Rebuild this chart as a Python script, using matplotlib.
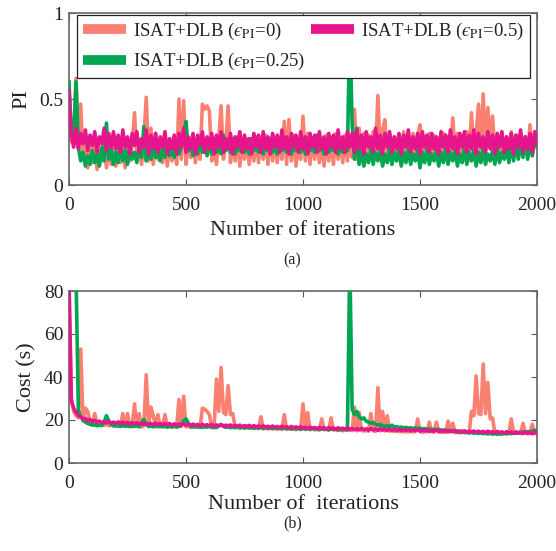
import numpy as np
import matplotlib
matplotlib.use("Agg")
import matplotlib.pyplot as plt

plt.rcParams['font.family'] = ['Liberation Serif', 'DejaVu Serif']
plt.rcParams['mathtext.fontset'] = 'stix'

# Iterations sampled every 10 steps
iterations = np.arange(0, 2001, 10)

# Performance index per iteration
pi_eps0 = [
    0.30, 0.25, 0.28, 0.62, 0.22, 0.47, 0.15, 0.25, 0.10, 0.22, 0.13, 0.26, 0.09, 0.20, 0.14, 0.25, 0.10, 0.22, 0.12, 0.27,
    0.11, 0.24, 0.13, 0.28, 0.10, 0.26, 0.14, 0.23, 0.42, 0.15, 0.25, 0.12, 0.27, 0.51, 0.14, 0.33, 0.12, 0.30, 0.15, 0.25,
    0.13, 0.27, 0.11, 0.24, 0.14, 0.28, 0.12, 0.50, 0.15, 0.49, 0.12, 0.26, 0.16, 0.27, 0.13, 0.25, 0.15, 0.47, 0.44, 0.46,
    0.43, 0.14, 0.25, 0.12, 0.27, 0.46, 0.15, 0.24, 0.46, 0.13, 0.26, 0.14, 0.28, 0.11, 0.25, 0.15, 0.27, 0.12, 0.24, 0.14,
    0.28, 0.13, 0.26, 0.15, 0.29, 0.12, 0.27, 0.14, 0.25, 0.13, 0.26, 0.15, 0.37, 0.12, 0.38, 0.14, 0.29, 0.11, 0.25, 0.15,
    0.40, 0.14, 0.30, 0.12, 0.27, 0.15, 0.28, 0.13, 0.26, 0.11, 0.29, 0.14, 0.27, 0.12, 0.30, 0.15, 0.26, 0.13, 0.29, 0.14,
    0.28, 0.16, 0.44, 0.15, 0.33, 0.17, 0.30, 0.16, 0.29, 0.18, 0.31, 0.17, 0.52, 0.18, 0.32, 0.38, 0.17, 0.30, 0.18, 0.28,
    0.17, 0.29, 0.16, 0.31, 0.18, 0.28, 0.15, 0.30, 0.17, 0.29, 0.35, 0.16, 0.28, 0.18, 0.30, 0.15, 0.29, 0.17, 0.27, 0.16,
    0.30, 0.17, 0.28, 0.16, 0.39, 0.18, 0.30, 0.15, 0.29, 0.17, 0.31, 0.16, 0.42, 0.18, 0.30, 0.47, 0.19, 0.53, 0.20, 0.45,
    0.22, 0.40, 0.18, 0.29, 0.16, 0.30, 0.17, 0.28, 0.15, 0.31, 0.17, 0.29, 0.16, 0.30, 0.18, 0.28, 0.16, 0.35, 0.17, 0.30,
    0.25,
]
pi_eps025 = [
    0.60, 0.30, 0.27, 0.60, 0.22, 0.14, 0.19, 0.11, 0.17, 0.12, 0.20, 0.13, 0.18, 0.11, 0.22, 0.14, 0.36, 0.15, 0.21, 0.12,
    0.19, 0.13, 0.24, 0.14, 0.20, 0.12, 0.22, 0.15, 0.19, 0.13, 0.23, 0.16, 0.34, 0.14, 0.21, 0.15, 0.24, 0.16, 0.20, 0.14,
    0.22, 0.16, 0.25, 0.17, 0.21, 0.16, 0.24, 0.18, 0.22, 0.30, 0.37, 0.20, 0.25, 0.17, 0.23, 0.18, 0.26, 0.19, 0.22, 0.17,
    0.24, 0.18, 0.27, 0.19, 0.23, 0.18, 0.29, 0.20, 0.24, 0.19, 0.27, 0.18, 0.23, 0.20, 0.26, 0.19, 0.24, 0.18, 0.27, 0.20,
    0.23, 0.19, 0.26, 0.18, 0.24, 0.20, 0.27, 0.19, 0.23, 0.18, 0.26, 0.20, 0.24, 0.19, 0.27, 0.18, 0.23, 0.20, 0.26, 0.19,
    0.24, 0.18, 0.27, 0.20, 0.23, 0.19, 0.29, 0.20, 0.24, 0.18, 0.26, 0.19, 0.23, 0.20, 0.27, 0.18, 0.24, 0.19, 0.26, 0.20,
    0.95, 0.35, 0.15, 0.33, 0.12, 0.20, 0.11, 0.18, 0.13, 0.21, 0.12, 0.19, 0.14, 0.20, 0.11, 0.18, 0.13, 0.21, 0.12, 0.19,
    0.14, 0.20, 0.11, 0.19, 0.13, 0.21, 0.12, 0.18, 0.14, 0.20, 0.10, 0.19, 0.13, 0.21, 0.12, 0.18, 0.14, 0.20, 0.11, 0.19,
    0.13, 0.21, 0.12, 0.19, 0.14, 0.20, 0.11, 0.18, 0.13, 0.21, 0.12, 0.19, 0.14, 0.20, 0.11, 0.19, 0.13, 0.21, 0.12, 0.18,
    0.14, 0.20, 0.12, 0.21, 0.13, 0.19, 0.15, 0.22, 0.13, 0.25, 0.14, 0.27, 0.15, 0.24, 0.16, 0.28, 0.15, 0.26, 0.17, 0.30,
    0.22,
]
pi_eps05 = [
    0.55, 0.29, 0.22, 0.33, 0.21, 0.30, 0.24, 0.32, 0.20, 0.29, 0.23, 0.31, 0.19, 0.28, 0.24, 0.33, 0.20, 0.30, 0.22, 0.31,
    0.21, 0.29, 0.19, 0.32, 0.22, 0.28, 0.18, 0.30, 0.23, 0.31, 0.19, 0.27, 0.22, 0.32, 0.18, 0.29, 0.21, 0.30, 0.19, 0.28,
    0.22, 0.31, 0.18, 0.27, 0.21, 0.29, 0.18, 0.30, 0.22, 0.33, 0.19, 0.28, 0.21, 0.30, 0.18, 0.29, 0.23, 0.31, 0.19, 0.28,
    0.21, 0.30, 0.18, 0.29, 0.22, 0.31, 0.19, 0.27, 0.21, 0.30, 0.18, 0.28, 0.22, 0.31, 0.19, 0.29, 0.21, 0.27, 0.18, 0.30,
    0.22, 0.29, 0.19, 0.31, 0.21, 0.28, 0.18, 0.30, 0.22, 0.29, 0.19, 0.32, 0.21, 0.28, 0.18, 0.30, 0.22, 0.29, 0.19, 0.31,
    0.21, 0.28, 0.18, 0.30, 0.22, 0.29, 0.19, 0.31, 0.21, 0.28, 0.18, 0.30, 0.22, 0.29, 0.19, 0.32, 0.21, 0.28, 0.19, 0.31,
    0.22, 0.30, 0.19, 0.32, 0.21, 0.29, 0.18, 0.31, 0.22, 0.28, 0.19, 0.33, 0.21, 0.29, 0.18, 0.30, 0.22, 0.31, 0.19, 0.28,
    0.21, 0.30, 0.18, 0.29, 0.22, 0.32, 0.19, 0.28, 0.21, 0.30, 0.18, 0.31, 0.22, 0.29, 0.19, 0.30, 0.21, 0.28, 0.18, 0.31,
    0.22, 0.29, 0.19, 0.32, 0.21, 0.28, 0.18, 0.30, 0.22, 0.31, 0.19, 0.29, 0.21, 0.32, 0.18, 0.30, 0.22, 0.28, 0.19, 0.31,
    0.21, 0.29, 0.18, 0.30, 0.22, 0.31, 0.19, 0.28, 0.21, 0.30, 0.18, 0.29, 0.22, 0.32, 0.19, 0.28, 0.21, 0.30, 0.19, 0.31,
    0.24,
]

# Computational cost (s) per iteration
cost_eps0 = [
    80.0, 30.0, 24.0, 22.0, 21.0, 53.0, 19.5, 25.5, 24.0, 19.0, 18.5, 23.0, 18.0, 17.8, 18.4, 17.5, 18.2, 17.3, 17.9, 17.2,
    17.8, 17.1, 17.6, 23.0, 17.0, 23.0, 17.3, 16.9, 27.5, 17.2, 23.0, 16.8, 17.4, 41.0, 17.0, 26.0, 22.0, 17.2, 22.5, 16.9,
    17.3, 22.5, 16.8, 17.1, 16.6, 17.0, 16.7, 29.5, 17.0, 31.0, 16.8, 17.2, 16.5, 16.9, 16.6, 17.0, 16.4, 25.5, 25.0, 24.0,
    22.5, 16.6, 16.3, 39.0, 24.0, 44.5, 23.5, 22.5, 36.0, 22.5, 23.0, 16.4, 16.7, 16.2, 16.6, 16.3, 16.5, 16.1, 16.4, 16.0,
    16.4, 16.0, 21.5, 15.9, 16.3, 15.8, 16.2, 15.9, 16.1, 15.7, 16.0, 15.8, 22.5, 15.6, 16.0, 15.7, 15.9, 15.5, 15.8, 15.6,
    27.5, 15.6, 23.5, 15.5, 15.8, 15.4, 15.7, 15.3, 20.5, 15.5, 15.6, 15.2, 21.0, 15.4, 15.5, 15.1, 15.4, 15.0, 15.3, 15.2,
    15.4, 15.1, 26.0, 15.0, 23.5, 15.2, 14.9, 15.1, 14.8, 23.0, 15.0, 14.7, 35.0, 15.0, 24.0, 14.9, 22.0, 14.8, 15.0, 14.7,
    14.9, 14.6, 14.8, 14.5, 14.7, 14.4, 14.8, 14.5, 14.6, 20.5, 14.7, 14.3, 14.6, 14.4, 19.0, 14.5, 14.3, 19.0, 14.6, 14.2,
    14.5, 14.2, 19.5, 14.4, 18.5, 14.1, 14.4, 14.0, 14.3, 14.1, 14.2, 13.9, 24.0, 22.0, 40.5, 23.0, 22.5, 46.0, 23.0, 37.5,
    20.5, 21.0, 14.0, 14.3, 13.9, 14.2, 13.8, 14.1, 13.9, 20.5, 14.0, 13.8, 14.1, 13.7, 18.5, 14.0, 13.6, 13.9, 18.0, 13.7,
    14.0,
]
cost_eps025 = [
    95.0, 92.0, 90.0, 88.0, 24.5, 21.5, 20.0, 19.0, 18.4, 18.0, 17.6, 17.8, 17.3, 17.6, 17.4, 19.0, 22.0, 19.5, 17.8, 17.4,
    17.2, 17.5, 17.0, 17.4, 17.1, 17.3, 16.9, 17.2, 17.0, 17.4, 16.8, 18.5, 20.2, 18.0, 17.0, 17.2, 16.8, 17.1, 16.9, 17.2,
    16.8, 17.1, 16.7, 17.0, 16.9, 17.2, 16.8, 17.0, 18.0, 19.5, 20.5, 18.5, 17.0, 16.8, 17.1, 16.7, 17.0, 16.6, 16.9, 16.7,
    17.0, 16.6, 16.9, 16.5, 17.2, 18.0, 17.0, 16.6, 16.8, 16.4, 16.7, 16.5, 16.8, 16.4, 16.6, 16.3, 16.7, 16.4, 16.5, 16.2,
    16.6, 16.3, 16.5, 16.1, 16.4, 16.2, 16.5, 16.0, 16.3, 16.1, 16.4, 15.9, 16.2, 16.0, 16.3, 15.8, 16.1, 15.9, 16.2, 15.7,
    16.1, 15.8, 16.0, 15.7, 16.2, 15.9, 16.0, 15.6, 15.9, 15.7, 16.0, 15.5, 15.8, 15.6, 15.9, 15.4, 15.7, 15.5, 15.8, 15.4,
    95.0, 25.0, 22.5, 24.0, 21.5, 20.5, 21.0, 19.5, 19.0, 18.5, 18.8, 18.0, 17.6, 17.9, 17.3, 17.0, 17.4, 16.8, 17.6, 16.7,
    16.9, 16.5, 16.7, 16.3, 16.6, 16.2, 16.4, 16.0, 16.3, 15.9, 16.1, 15.8, 16.0, 15.6, 15.9, 15.5, 15.7, 15.4, 15.6, 15.2,
    15.4, 15.0, 15.2, 14.8, 15.1, 14.6, 14.9, 14.4, 14.7, 14.2, 14.5, 14.0, 14.3, 13.8, 14.1, 13.7, 14.0, 13.6, 13.9, 13.5,
    13.8, 13.4, 13.7, 13.3, 13.6, 13.4, 13.8, 13.5, 13.9, 13.6, 14.1, 13.8, 14.3, 14.0, 14.5, 14.2, 14.6, 14.4, 14.9, 15.2,
    14.8,
]
cost_eps05 = [
    85.0, 29.0, 25.5, 23.5, 22.0, 21.5, 20.5, 20.8, 19.6, 20.2, 19.3, 19.8, 19.0, 19.5, 18.7, 19.3, 18.6, 19.4, 18.5, 19.0,
    18.5, 19.1, 18.4, 19.0, 18.2, 18.9, 18.1, 18.8, 18.2, 18.7, 18.0, 18.6, 17.9, 18.5, 18.0, 18.4, 17.8, 18.5, 17.7, 18.3,
    17.9, 18.3, 17.7, 18.4, 17.6, 18.2, 17.7, 18.1, 17.5, 18.2, 17.6, 18.0, 17.4, 18.1, 17.5, 17.9, 17.3, 18.0, 17.4, 17.8,
    17.3, 17.9, 17.2, 17.7, 17.3, 17.8, 17.1, 17.6, 17.2, 17.7, 17.0, 17.5, 17.1, 17.6, 16.9, 17.4, 17.0, 17.5, 16.8, 17.4,
    16.8, 17.2, 16.6, 17.3, 16.7, 17.1, 16.5, 17.2, 16.6, 17.0, 16.4, 17.1, 16.5, 16.9, 16.3, 17.0, 16.4, 16.8, 16.2, 16.9,
    16.2, 16.6, 16.0, 16.7, 16.1, 16.5, 15.9, 16.6, 16.0, 16.4, 15.8, 16.5, 15.9, 16.3, 15.7, 16.4, 15.8, 16.2, 15.6, 16.3,
    15.6, 16.1, 15.5, 16.0, 15.4, 16.1, 15.5, 15.9, 15.3, 16.0, 15.4, 15.8, 15.2, 15.9, 15.3, 15.7, 15.1, 15.8, 15.2, 15.6,
    15.1, 15.7, 15.0, 15.5, 15.1, 15.6, 14.9, 15.4, 15.0, 15.5, 14.8, 15.3, 14.9, 15.4, 14.7, 15.2, 14.8, 15.3, 14.6, 15.1,
    14.7, 15.2, 14.5, 15.0, 14.6, 15.1, 14.4, 14.9, 14.5, 15.0, 14.3, 14.8, 14.4, 14.9, 14.2, 14.8, 14.3, 14.7, 14.1, 14.8,
    14.2, 14.6, 14.0, 14.7, 14.1, 14.5, 13.9, 14.6, 14.0, 14.4, 13.8, 14.5, 13.9, 14.3, 13.7, 14.4, 13.8, 14.2, 13.6, 14.3,
    13.9,
]

labels = [r'ISAT+DLB ($ϵ_{\rm PI}$=0)',
          r'ISAT+DLB ($ϵ_{\rm PI}$=0.25)',
          r'ISAT+DLB ($ϵ_{\rm PI}$=0.5)']
colors = ['#FA8072', '#00A651', '#E7158C']
TXT = '#222222'

W, H = 556, 551
fig = plt.figure(figsize=(W / 100, H / 100), dpi=100)


def px_axes(left, top, right, bottom):
    return fig.add_axes([left / W, 1 - bottom / H, (right - left) / W, (bottom - top) / H])


def style_axes(ax):
    for s in ax.spines.values():
        s.set_color('#666666')
        s.set_linewidth(1.2)
    ax.tick_params(direction='in', top=True, right=True, length=4, width=0.8,
                   color='#555555', labelsize=14, labelcolor=TXT)
    ax.tick_params(axis='x', pad=9)
    ax.tick_params(axis='y', pad=4)
    ax.set_xlim(0, 2000)
    ax.set_xticks([0, 500, 1000, 1500, 2000])


ax1 = px_axes(69, 13, 537, 185)
lines = []
for y, c, lab, z in zip([pi_eps0, pi_eps025, pi_eps05], colors, labels, [2, 3, 4]):
    ln, = ax1.plot(iterations, y, color=c, lw=2.6, label=lab, zorder=z)
    lines.append(ln)
style_axes(ax1)
ax1.set_ylim(0, 1)
ax1.set_yticks([0, 0.5, 1])
ax1.set_yticklabels(['0', '0.5', '1'])
ax1.set_xlabel('Number of iterations', fontsize=16, labelpad=5, color=TXT)
ax1.set_ylabel('PI', fontsize=16, labelpad=6, color=TXT)

leg = ax1.legend(handles=lines, ncol=2, loc='upper left',
                 bbox_to_anchor=(77 / W, 1 - 15 / H, (530 - 77) / W, 0),
                 bbox_transform=fig.transFigure, mode='expand',
                 fontsize=13.5, frameon=True, fancybox=False, framealpha=1,
                 edgecolor=TXT, handlelength=2.3, handletextpad=0.4,
                 labelspacing=0.5, borderpad=0.3, columnspacing=1.0,
                 borderaxespad=0)
leg.get_frame().set_linewidth(0.9)
for h in leg.legend_handles:
    h.set_linewidth(7)
    h.set_solid_capstyle('butt')
for t in leg.get_texts():
    t.set_color(TXT)
leg.set_zorder(10)

ax2 = px_axes(69, 291, 537, 463)
for y, c, z in zip([cost_eps0, cost_eps025, cost_eps05], colors, [2, 3, 4]):
    ax2.plot(iterations, y, color=c, lw=2.6, zorder=z)
style_axes(ax2)
ax2.set_ylim(0, 80)
ax2.set_yticks([0, 20, 40, 60, 80])
ax2.set_xlabel('Number of  iterations', fontsize=16, labelpad=2, color=TXT)
ax2.set_ylabel('Cost (s)', fontsize=16, labelpad=5, color=TXT)

fig.text(292 / W, 1 - 260 / H, '(a)', ha='center', va='center', fontsize=11.5, color=TXT)
fig.text(293 / W, 1 - 523 / H, '(b)', ha='center', va='center', fontsize=11.5, color=TXT)

fig.savefig('out.png', dpi=100)
